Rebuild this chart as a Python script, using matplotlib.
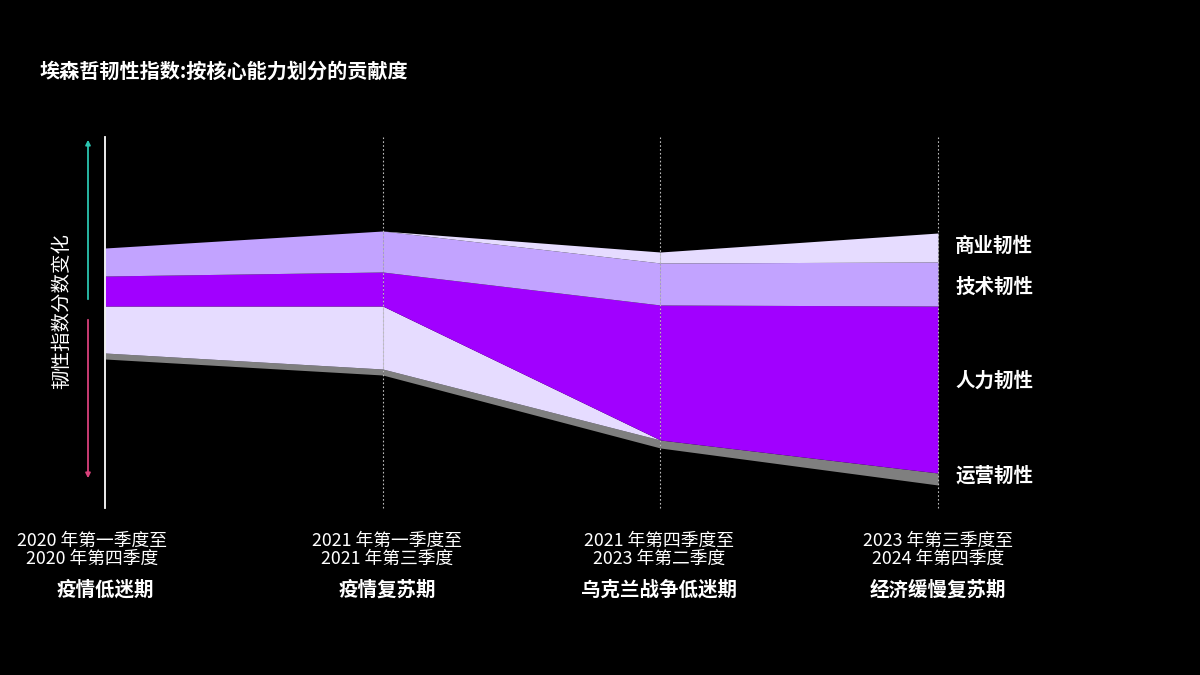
import matplotlib.pyplot as plt

plt.rcParams['font.family'] = ['Noto Sans CJK SC', 'DejaVu Sans']

# categories and colours
categories = ['商业韧性', '技术韧性', '人力韧性', '运营韧性']
colors = {'商业韧性': '#E6DCFF', '技术韧性': '#C2A3FF',
          '人力韧性': '#A100FF', '运营韧性': '#7F7F7F'}

# score contribution per period (arbitrary index units)
business = [47, 63, 11, 29]
technology = [28, 41, 42, 44]
people = [30, 34, 135, 167]
operations = [6, 6, 8, 12]
baseline = [149, 133, 60, 23]

# stacking order per period, top to bottom
orders = [
    ['技术韧性', '人力韧性', '商业韧性', '运营韧性'],
    ['技术韧性', '人力韧性', '商业韧性', '运营韧性'],
    ['商业韧性', '技术韧性', '人力韧性', '运营韧性'],
    ['商业韧性', '技术韧性', '人力韧性', '运营韧性'],
]

period_dates = ['2020 年第一季度至\n2020 年第四季度', '2021 年第一季度至\n2021 年第三季度',
                '2021 年第四季度至\n2023 年第二季度', '2023 年第三季度至\n2024 年第四季度']
period_names = ['疫情低迷期', '疫情复苏期', '乌克兰战争低迷期', '经济缓慢复苏期']

values = {'商业韧性': business, '技术韧性': technology,
          '人力韧性': people, '运营韧性': operations}


def segment_pieces(i):
    # list of (category, left value, right value), top to bottom
    ol, orr = orders[i], orders[i + 1]
    if ol == orr:
        return [(c, values[c][i], values[c][i + 1]) for c in orr]
    for c in ol:
        if [x for x in ol if x != c] == [x for x in orr if x != c]:
            moved = c
            break
    pieces = [(x, values[x][i], values[x][i + 1]) if x != moved else (x, 0, values[x][i + 1])
              for x in orr]
    idx = ol.index(moved)
    left_piece = (moved, values[moved][i], 0)
    if idx == 0:
        pos = [p[0] for p in pieces].index(ol[1])
        pieces.insert(pos, left_piece)
    else:
        prev = ol[idx - 1]
        pos = [p[0] for p in pieces].index(prev)
        pieces.insert(pos + 1, left_piece)
    return pieces


fig = plt.figure(figsize=(12, 6.75), dpi=100, facecolor='black')
W, H = 1200, 675
ax = fig.add_axes([105 / W, 1 - 508 / H, (938 - 105) / W, (508 - 137) / H])
ax.set_facecolor('black')
ax.set_xlim(0, 3)
ax.set_ylim(0, 371)
ax.axis('off')

for i in range(3):
    pieces = segment_pieces(i)
    yl, yr = baseline[i], baseline[i + 1]
    for cat, vl, vr in reversed(pieces):
        ax.fill_between([i, i + 1], [yl, yr], [yl + vl, yr + vr],
                        color=colors[cat], linewidth=0)
        yl += vl
        yr += vr

ax.axvline(0, color='white', lw=1.3, clip_on=False)
for i in range(1, 4):
    ax.axvline(i, color='#BBBBBB', lw=0.8, ls=(0, (1.5, 2)), clip_on=False)

# overlay for text in pixel coordinates
ov = fig.add_axes([0, 0, 1, 1])
ov.set_xlim(0, W)
ov.set_ylim(H, 0)
ov.axis('off')
ov.patch.set_alpha(0)

ov.text(40, 71, '埃森哲韧性指数:按核心能力划分的贡献度', color='white',
        fontsize=14.5, fontweight='bold', va='center', ha='left')

ov.text(62, 311, '韧性指数分数变化', color='white', fontsize=14,
        rotation=90, va='center', ha='center')
ov.annotate('', xy=(88, 137), xytext=(88, 302),
            arrowprops=dict(arrowstyle='-|>', color='#2BC4B0', lw=1.3, mutation_scale=7))
ov.annotate('', xy=(88, 481), xytext=(88, 317),
            arrowprops=dict(arrowstyle='-|>', color='#D9417B', lw=1.3, mutation_scale=7))

label_y = {'商业韧性': 246, '技术韧性': 287, '人力韧性': 381, '运营韧性': 476}
for cat in categories:
    ov.text(955, label_y[cat], cat, color='white', fontsize=14, fontweight='bold',
            va='center', ha='left')

period_px = [105, 387, 659, 938]
date_shift = [-13, 0, 0, 0]
for x, dx, d, n in zip(period_px, date_shift, period_dates, period_names):
    ov.text(x + dx, 550, d, color='white', fontsize=12.8, ha='center', va='center',
            linespacing=1.05)
    ov.text(x, 590, n, color='white', fontsize=14, fontweight='bold',
            ha='center', va='center')

fig.savefig('out.png', dpi=100, facecolor='black')
